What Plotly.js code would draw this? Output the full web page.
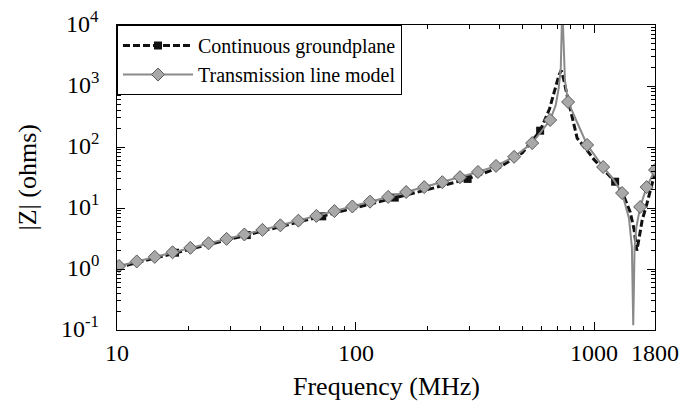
<!DOCTYPE html>
<html><head><meta charset="utf-8">
<script src="https://cdn.plot.ly/plotly-3.0.1.min.js"></script>
<style>html,body{margin:0;padding:0;background:#fff}</style>
</head><body><div id="chart" style="width:694px;height:411px"></div>
<script>
const seriesNames = ['Continuous groundplane', 'Transmission line model'];

// Continuous groundplane (measured), frequency in MHz and |Z| in ohms
const groundFreq = [10, 17.5, 25, 35, 50, 72.5, 100, 146, 200, 295, 400, 500, 594, 650, 690, 712, 728, 745, 778, 817, 849, 935, 1000, 1100, 1225, 1330, 1416, 1470, 1510, 1550, 1590, 1667, 1750, 1800];
const groundZ    = [1.05, 1.85, 2.6, 3.6, 5.1, 7.3, 10.2, 14.8, 20, 30, 46, 80, 185, 420, 950, 1500, 1800, 1300, 590, 250, 140, 88, 62, 42, 27, 16, 8.6, 4.5, 2.0, 3.5, 6.3, 12, 24, 38];
const groundSquaresAt = [10, 17.5, 35, 72.5, 146, 295, 594, 1225];

// Transmission line model
const lineFreq = [10.2, 12.1, 14.4, 17.1, 20.3, 24.2, 28.8, 34.2, 40.7, 48.4, 57.6, 68.5, 81.5, 97, 115, 137, 163, 194, 231, 274, 326, 388, 462, 550, 654, 690, 710, 725, 733, 737, 742, 755, 778, 935, 1091, 1200, 1310, 1400, 1440, 1459, 1478, 1500, 1560, 1660, 1800];
const lineZ    = [1.12, 1.33, 1.58, 1.88, 2.22, 2.64, 3.12, 3.68, 4.38, 5.2, 6.2, 7.4, 8.9, 10.6, 12.7, 15.2, 18.3, 22.0, 26.5, 32, 39, 49, 69, 116, 277, 480, 900, 2000, 6000, 30000, 8000, 1200, 547, 108, 47, 30, 17.6, 6.8, 2.3, 0.12, 2.2, 4.6, 10.4, 22, 42];
const lineNoDiamondAt = [690, 710, 725, 733, 737, 742, 755, 1200, 1400, 1440, 1459, 1478, 1500];

const xTickVals = [10, 100, 1000, 1800];
const xTickText = ['10', '100', '1000', '1800'];
const yTickVals = [0.1, 1, 10, 100, 1000, 10000];
const yTickText = ['10<sup>-1</sup>', '10<sup>0</sup>', '10<sup>1</sup>', '10<sup>2</sup>', '10<sup>3</sup>', '10<sup>4</sup>'];
const xTitle = 'Frequency (MHz)';
const yTitle = '|Z| (ohms)';

const SERIF = 'Liberation Serif';
const clear = 'rgba(0,0,0,0)';

function minorTicks(lo, hi) {
  const out = [];
  for (let d = Math.pow(10, Math.floor(Math.log10(lo))); d < hi; d *= 10) {
    for (let m = 2; m <= 9; m++) { const v = m * d; if (v > lo && v < hi) out.push(v); }
  }
  return out;
}

const groundShow = groundFreq.map(f => groundSquaresAt.includes(f));
const lineShow = lineFreq.map(f => !lineNoDiamondAt.includes(f));

const traces = [
  {
    x: groundFreq, y: groundZ, name: seriesNames[0], type: 'scatter', mode: 'lines+markers',
    line: {color: '#111', width: 3, dash: '7px,3px'},
    marker: {symbol: 'square', size: 8,
      color: groundShow.map(s => s ? '#111' : clear),
      line: {width: 0}}
  },
  {
    x: lineFreq, y: lineZ, name: seriesNames[1], type: 'scatter', mode: 'lines+markers',
    line: {color: '#8a8a8a', width: 2},
    marker: {symbol: 'diamond', size: 10,
      color: lineShow.map(s => s ? '#a8a8a8' : clear),
      line: {width: 1, color: lineShow.map(s => s ? '#5a5a5a' : clear)}}
  }
];

function axisBase() {
  return {
    type: 'log', showgrid: false, zeroline: false, showline: true, linecolor: '#000', linewidth: 1,
    mirror: 'allticks', ticks: 'inside', ticklen: 8, tickwidth: 1, tickcolor: '#000',
    showticklabels: false
  };
}

const tickFont = {family: SERIF, size: 24, color: '#000'};
const titleFont = {family: SERIF, size: 26, color: '#000'};

// Tick labels and axis titles drawn as annotations placed through the axes
const annotations = []
  .concat(xTickVals.map((v, i) => ({
    xref: 'x', yref: 'paper', x: Math.log10(v), y: 0, yanchor: 'top', xanchor: 'center', yshift: -8,
    text: xTickText[i], showarrow: false, font: tickFont
  })))
  .concat(yTickVals.map((v, i) => ({
    xref: 'paper', yref: 'y', x: 0, y: Math.log10(v), xanchor: 'right', yanchor: 'middle', xshift: -16, yshift: 3,
    text: yTickText[i], showarrow: false, font: tickFont
  })))
  .concat([
    {xref: 'paper', yref: 'paper', x: 0.5, y: 0, xanchor: 'center', yanchor: 'top', yshift: -40,
      text: xTitle, showarrow: false, font: titleFont},
    {xref: 'paper', yref: 'paper', x: 0, y: 0.5, xanchor: 'center', yanchor: 'middle', xshift: -90,
      text: yTitle, textangle: -90, showarrow: false, font: titleFont}
  ]);

const layout = {
  width: 694, height: 411,
  margin: {l: 117, r: 39, t: 25, b: 81},
  paper_bgcolor: '#fff', plot_bgcolor: '#fff',
  showlegend: true,
  font: {family: SERIF, size: 22, color: '#000'},
  legend: {x: 0, y: 1, xanchor: 'left', yanchor: 'top', bgcolor: '#fff', bordercolor: '#000', borderwidth: 1,
    font: {family: SERIF, size: 20, color: '#000'}, itemwidth: 70, tracegroupgap: 0},
  xaxis: Object.assign(axisBase(), {
    range: [1, Math.log10(1800)], tickmode: 'array', tickvals: xTickVals,
    minor: {ticks: 'inside', ticklen: 4, tickcolor: '#000', tickmode: 'array', tickvals: minorTicks(10, 1800)}
  }),
  yaxis: Object.assign(axisBase(), {
    range: [-1, 4], tickmode: 'array', tickvals: yTickVals,
    minor: {ticks: 'inside', ticklen: 4, tickcolor: '#000', tickmode: 'array', tickvals: minorTicks(0.1, 10000)}
  }),
  annotations: annotations
};

Plotly.newPlot('chart', traces, layout, {staticPlot: true, displayModeBar: false});
</script>
</body></html>
